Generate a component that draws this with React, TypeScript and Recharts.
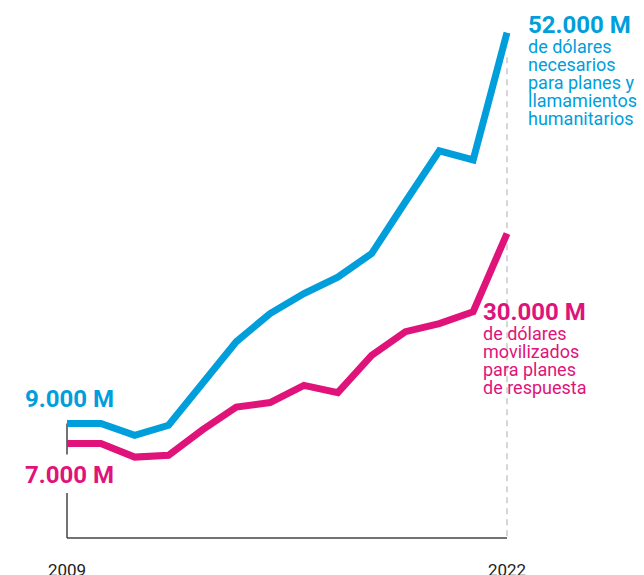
import { LineChart, Line, XAxis, YAxis, ReferenceLine, ReferenceDot } from 'recharts';

const years = ['2009', '2010', '2011', '2012', '2013', '2014', '2015', '2016', '2017', '2018', '2019', '2020', '2021', '2022'];
// millones de dólares
const requiredM = [9000, 9000, 7700, 8800, 13400, 18000, 21100, 23300, 25100, 27700, 33400, 39000, 38000, 52000];
const fundedM = [6800, 6800, 5300, 5500, 8300, 10800, 11300, 13200, 12400, 16500, 19100, 20000, 21300, 29900];
const shownYears = ['2009', '2022'];

const BLUE = '#009edb';
const PINK = '#e0137b';
const FONT = 'Roboto, "Noto Sans", sans-serif';

const data = years.map((year, i) => ({ year, required: requiredM[i], funded: fundedM[i] }));

function blockLabel(title: string, lines: string[], color: string, dx: number, dy: number) {
  return (props: any) => {
    const { x, y } = props.viewBox;
    return (
      <text x={x + dx} y={y + dy} fill={color} fontFamily={FONT}>
        <tspan x={x + dx} fontSize={24} fontWeight={700}>{title}</tspan>
        {lines.map((l, i) => (
          <tspan key={i} x={x + dx} dy={i === 0 ? 20 : 18} fontSize={18}>{l}</tspan>
        ))}
      </text>
    );
  };
}

const renderTick = (props: any) => {
  const { x, y, payload } = props;
  if (!shownYears.includes(payload.value)) return <g />;
  return (
    <text x={x} y={y + 38} textAnchor="middle" fontSize={17} fill="#222" fontFamily={FONT}>
      {payload.value}
    </text>
  );
};

export default function App() {
  const first = data[0];
  const last = data[data.length - 1];
  return (
    <div style={{ position: 'absolute', left: 0, top: 0, background: '#fff' }}>
      <LineChart width={644} height={575} data={data} margin={{ top: 20, right: 137, left: 67, bottom: 7 }}>
        <XAxis
          dataKey="year"
          height={30}
          interval={0}
          tickLine={false}
          tickSize={0}
          tickMargin={0}
          axisLine={{ stroke: '#444', strokeWidth: 1.5 }}
          tick={renderTick}
        />
        <YAxis hide domain={[-3600, 53400]} />
        <ReferenceLine segment={[{ x: '2009', y: 9000 }, { x: '2009', y: 5600 }]} stroke="#444" strokeWidth={1.5} />
        <ReferenceLine segment={[{ x: '2009', y: 1350 }, { x: '2009', y: -3600 }]} stroke="#444" strokeWidth={1.5} />
        <ReferenceLine segment={[{ x: '2022', y: 49300 }, { x: '2022', y: -3600 }]} stroke="#bbb" strokeWidth={1.2} strokeDasharray="6 5" />
        <Line dataKey="required" stroke={BLUE} strokeWidth={7} dot={false} type="linear" isAnimationActive={false} />
        <Line dataKey="funded" stroke={PINK} strokeWidth={7} dot={false} type="linear" isAnimationActive={false} />
        <ReferenceDot x={first.year} y={first.required} r={0} fill="none" stroke="none"
          label={blockLabel('9.000 M', [], BLUE, -42, -16.5)} />
        <ReferenceDot x={first.year} y={first.funded} r={0} fill="none" stroke="none"
          label={blockLabel('7.000 M', [], PINK, -42, 39.5)} />
        <ReferenceDot x={last.year} y={last.required} r={0} fill="none" stroke="none"
          label={blockLabel('52.000 M', ['de dólares', 'necesarios', 'para planes y', 'llamamientos', 'humanitarios'], BLUE, 21, 0)} />
        <ReferenceDot x={last.year} y={last.funded} r={0} fill="none" stroke="none"
          label={blockLabel('30.000 M', ['de dólares', 'movilizados', 'para planes', 'de respuesta'], PINK, -24, 86)} />
      </LineChart>
    </div>
  );
}
